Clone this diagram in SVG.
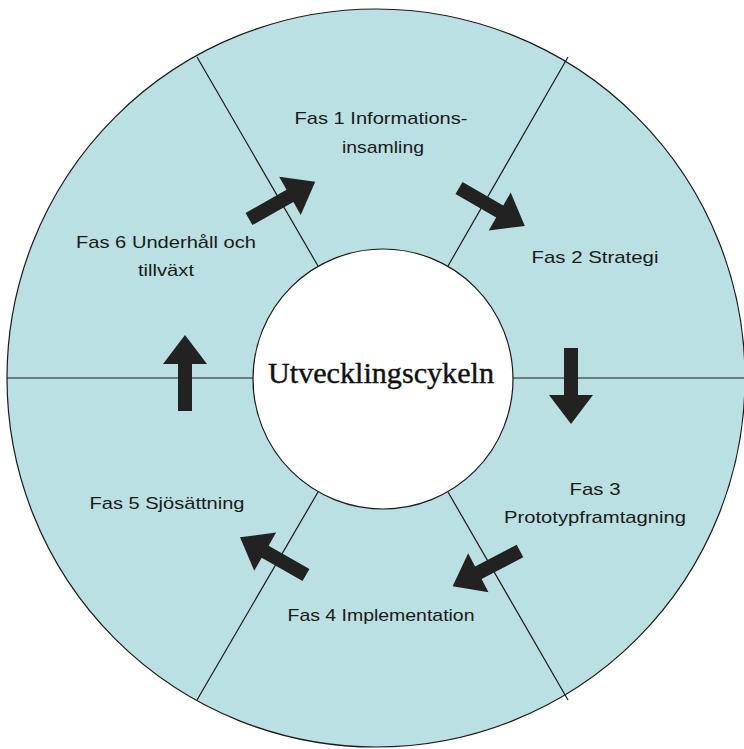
<svg xmlns="http://www.w3.org/2000/svg" width="744" height="749" viewBox="0 0 744 749">
  <style>
    .ring { fill: #bbe0e3; stroke: #1a1a1a; stroke-width: 1.2; }
    .hub { fill: #ffffff; stroke: #1a1a1a; stroke-width: 1.2; }
    .div { stroke: #1a1a1a; stroke-width: 1.2; fill: none; }
    .lbl { font-family: "Liberation Sans", Arial, sans-serif; font-size: 17px; fill: #1a1a1a; text-anchor: middle; }
    .title { font-family: "Liberation Serif", "Times New Roman", serif; font-size: 30px; fill: #111; stroke: #111; stroke-width: 0.4; text-anchor: middle; }
    .arr { fill: #222222; }
  </style>
  <defs>
    <path id="arrow" d="M0,-7 L47,-7 L47,-22 L76,0 L47,22 L47,7 L0,7 Z"/>
  </defs>
  <rect width="744" height="749" fill="#ffffff"/>

  <g id="ring">
    <circle class="ring" cx="376" cy="378" r="369"/>
    <line class="div" x1="7" y1="378" x2="253" y2="378"/>
    <line class="div" x1="513" y1="378" x2="745" y2="378"/>
    <line class="div" x1="318" y1="266" x2="197" y2="57"/>
    <line class="div" x1="448" y1="266" x2="568" y2="57"/>
    <line class="div" x1="318" y1="492" x2="197" y2="700"/>
    <line class="div" x1="448" y1="492" x2="568" y2="700"/>
  </g>

  <g id="hub">
    <circle class="hub" cx="383" cy="379" r="130"/>
    <text class="title" x="381" y="383" textLength="226" lengthAdjust="spacingAndGlyphs">Utvecklingscykeln</text>
  </g>

  <g id="fas1">
    <text class="lbl" x="381" y="124" textLength="173" lengthAdjust="spacingAndGlyphs">Fas 1 Informations-</text>
    <text class="lbl" x="383" y="153" textLength="82" lengthAdjust="spacingAndGlyphs">insamling</text>
  </g>
  <g id="fas2">
    <text class="lbl" x="595" y="263" textLength="127" lengthAdjust="spacingAndGlyphs">Fas 2 Strategi</text>
  </g>
  <g id="fas3">
    <text class="lbl" x="595" y="495" textLength="51" lengthAdjust="spacingAndGlyphs">Fas 3</text>
    <text class="lbl" x="595" y="523" textLength="182" lengthAdjust="spacingAndGlyphs">Prototypframtagning</text>
  </g>
  <g id="fas4">
    <text class="lbl" x="381" y="621" textLength="187" lengthAdjust="spacingAndGlyphs">Fas 4 Implementation</text>
  </g>
  <g id="fas5">
    <text class="lbl" x="167" y="509" textLength="155" lengthAdjust="spacingAndGlyphs">Fas 5 Sjösättning</text>
  </g>
  <g id="fas6">
    <text class="lbl" x="166" y="248" textLength="180" lengthAdjust="spacingAndGlyphs">Fas 6 Underhåll och</text>
    <text class="lbl" x="166" y="276" textLength="56" lengthAdjust="spacingAndGlyphs">tillväxt</text>
  </g>

  <g id="connectors" class="arr">
    <use href="#arrow" transform="translate(249,219) rotate(-29.4)"/>
    <use href="#arrow" transform="translate(459,188) rotate(30)"/>
    <use href="#arrow" transform="translate(571,348) rotate(90)"/>
    <use href="#arrow" transform="translate(520,551) rotate(152.4)"/>
    <use href="#arrow" transform="translate(306,575) rotate(209.7)"/>
    <use href="#arrow" transform="translate(185,411) rotate(-90)"/>
  </g>
</svg>
